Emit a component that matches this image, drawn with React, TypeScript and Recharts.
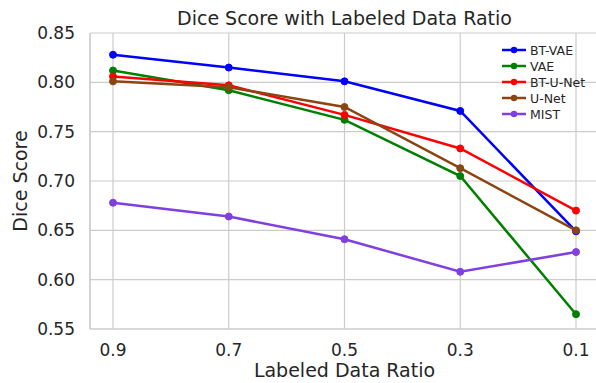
import { LineChart, Line, XAxis, YAxis, CartesianGrid, Legend } from 'recharts';

// Labeled data ratio (x categories)
const RATIOS = ['0.9', '0.7', '0.5', '0.3', '0.1'];

// Dice scores per model
const BT_VAE = [0.828, 0.815, 0.801, 0.771, 0.649];
const VAE = [0.812, 0.792, 0.762, 0.705, 0.565];
const BT_UNET = [0.806, 0.797, 0.767, 0.733, 0.670];
const UNET = [0.801, 0.795, 0.775, 0.713, 0.650];
const MIST = [0.678, 0.664, 0.641, 0.608, 0.628];

const Y_TICKS = [0.55, 0.6, 0.65, 0.7, 0.75, 0.8, 0.85];

const SERIES = [
  { key: 'btvae', name: 'BT-VAE', color: '#0000ff', values: BT_VAE },
  { key: 'vae', name: 'VAE', color: '#008000', values: VAE },
  { key: 'btunet', name: 'BT-U-Net', color: '#ff0000', values: BT_UNET },
  { key: 'unet', name: 'U-Net', color: '#8b4513', values: UNET },
  { key: 'mist', name: 'MIST', color: '#8040e0', values: MIST },
];

const data = RATIOS.map((ratio, i) => {
  const row: Record<string, string | number> = { ratio };
  SERIES.forEach(s => { row[s.key] = s.values[i]; });
  return row;
});

const FONT = "'DejaVu Sans', sans-serif";
const TEXT = '#262626';
const GRID = '#cccccc';

function ModelLegend() {
  return (
    <div style={{ fontFamily: FONT, fontSize: 12.5, color: TEXT }}>
      {SERIES.map(s => (
        <div key={s.key} style={{ display: 'flex', alignItems: 'center', height: 16 }}>
          <svg width={24} height={10} style={{ marginRight: 4 }}>
            <line x1={0} y1={5} x2={24} y2={5} stroke={s.color} strokeWidth={2.5} />
            <circle cx={12} cy={5} r={3.2} fill={s.color} />
          </svg>
          <span>{s.name}</span>
        </div>
      ))}
    </div>
  );
}

export default function App() {
  return (
    <div style={{ position: 'absolute', left: 0, top: 0, width: 596, height: 383, overflow: 'hidden', background: '#fff' }}>
      <div
        style={{
          position: 'absolute', left: 90, top: 9, width: 509, textAlign: 'center',
          fontFamily: FONT, fontSize: 19, lineHeight: '19px', color: TEXT,
        }}
      >
        Dice Score with Labeled Data Ratio
      </div>
      <LineChart width={600} height={383} data={data} margin={{ top: 33, right: 1, bottom: 0, left: 0 }}>
        <CartesianGrid stroke={GRID} strokeWidth={1.2} />
        <XAxis
          dataKey="ratio"
          height={54}
          padding={{ left: 23, right: 23 }}
          axisLine={{ stroke: GRID, strokeWidth: 1.2 }}
          tickLine={false}
          tickSize={0}
          tickMargin={15}
          tick={{ fill: TEXT, fontSize: 17, fontFamily: FONT }}
          label={{ value: 'Labeled Data Ratio', position: 'insideBottom', offset: 6, fill: TEXT, fontSize: 19, fontFamily: FONT }}
        />
        <YAxis
          width={90}
          domain={[0.55, 0.85]}
          ticks={Y_TICKS}
          allowDataOverflow
          axisLine={{ stroke: GRID, strokeWidth: 1.2 }}
          tickLine={false}
          tickSize={0}
          tickMargin={15}
          tickFormatter={(v: number) => v.toFixed(2)}
          tick={{ fill: TEXT, fontSize: 17, fontFamily: FONT }}
          label={{ value: 'Dice Score', angle: -90, position: 'insideLeft', offset: 20, fill: TEXT, fontSize: 19, fontFamily: FONT, style: { textAnchor: 'middle' } }}
        />
        <Legend
          layout="vertical"
          align="center"
          verticalAlign="middle"
          content={<ModelLegend />}
          wrapperStyle={{ top: 42, left: 502, width: 100 }}
        />
        {SERIES.map(s => (
          <Line
            key={s.key}
            dataKey={s.key}
            name={s.name}
            stroke={s.color}
            strokeWidth={2.5}
            dot={{ r: 3.5, fill: s.color, stroke: s.color, strokeWidth: 1 }}
            activeDot={false}
            isAnimationActive={false}
          />
        ))}
      </LineChart>
    </div>
  );
}
